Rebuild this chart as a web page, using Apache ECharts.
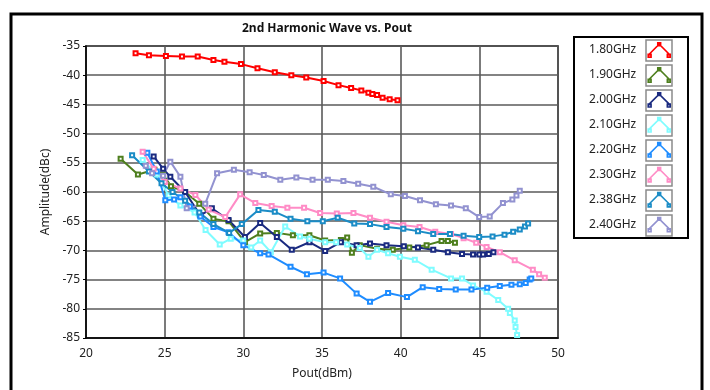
<!DOCTYPE html>
<html>
<head>
<meta charset="utf-8">
<script src="https://cdn.jsdelivr.net/npm/echarts@6/dist/echarts.min.js"></script>
<style>
  html, body { margin: 0; padding: 0; background: #fff; }
  #chart { width: 710px; height: 390px; }
</style>
</head>
<body>
<div id="chart"></div>
<script>
// Frequency names shown in the legend
const freqNames = ['1.80GHz', '1.90GHz', '2.00GHz', '2.10GHz', '2.20GHz', '2.30GHz', '2.38GHz', '2.40GHz'];
const freqColors = ['#ff0000', '#4e7f1e', '#1a2a80', '#7ffcff', '#1e8cff', '#ff8cc6', '#1b8cc6', '#9292d0'];

// [Pout (dBm), amplitude (dBc)] measurements per frequency
const h180 = [[23.15,-36.25],[24.0,-36.6],[25.08,-36.7],[26.1,-36.8],[27.1,-36.8],[28.1,-37.4],[28.8,-37.7],[29.85,-38.1],[30.9,-38.8],[32.0,-39.5],[33.05,-40.0],[34.0,-40.4],[35.1,-41.0],[36.05,-41.7],[36.85,-42.2],[37.5,-42.6],[37.95,-43.0],[38.2,-43.2],[38.5,-43.4],[38.85,-43.85],[39.3,-44.1],[39.8,-44.3]];
const h190 = [[22.2,-54.3],[23.3,-57.0],[24.35,-56.2],[24.9,-57.0],[25.4,-59.0],[26.3,-60.0],[27.2,-62.0],[28.1,-64.6],[29.06,-65.0],[30.1,-68.6],[31.07,-67.1],[32.13,-67.0],[33.15,-67.4],[34.2,-67.4],[35.2,-68.3],[36.2,-68.2],[36.6,-67.8],[36.9,-70.4],[37.4,-69.1],[38.5,-69.7],[39.5,-69.9],[40.55,-69.5],[41.65,-69.1],[42.6,-68.4],[43.0,-68.4],[43.45,-68.7]];
const h200 = [[24.3,-53.9],[24.9,-56.0],[25.36,-57.4],[26.3,-60.0],[27.27,-64.0],[28.0,-62.8],[29.06,-64.8],[30.1,-67.7],[31.07,-65.3],[32.13,-67.7],[33.08,-69.9],[34.2,-68.6],[35.2,-70.1],[36.2,-68.6],[37.2,-69.1],[38.05,-68.8],[39.1,-69.1],[40.2,-69.3],[41.1,-69.5],[42.07,-69.9],[43.0,-70.3],[43.9,-70.6],[44.6,-70.7],[45.0,-70.7],[45.24,-70.7],[45.6,-70.6],[45.9,-70.3]];
const h210 = [[23.6,-54.5],[24.5,-57.0],[25.25,-60.6],[26.0,-62.3],[26.9,-63.5],[27.6,-66.5],[28.5,-69.0],[29.2,-68.0],[30.0,-68.3],[30.5,-69.5],[31.07,-68.3],[31.75,-70.3],[32.66,-65.9],[33.6,-67.6],[34.2,-68.0],[35.2,-68.6],[35.9,-68.6],[36.6,-69.0],[37.4,-69.6],[37.95,-71.1],[38.5,-69.9],[39.2,-70.5],[39.95,-71.1],[40.9,-71.6],[41.97,-73.3],[43.2,-74.8],[43.9,-74.8],[44.6,-76.0],[45.46,-77.1],[46.2,-78.5],[46.83,-80.0],[46.94,-80.7],[47.25,-82.0],[47.3,-83.1],[47.4,-84.5]];
const h220 = [[23.9,-53.3],[24.5,-56.5],[25.04,-61.4],[25.6,-61.3],[26.0,-60.9],[26.6,-62.5],[27.27,-64.2],[28.1,-66.0],[29.06,-66.9],[30.0,-69.1],[31.07,-70.5],[31.6,-70.7],[33.0,-72.8],[34.04,-74.1],[35.1,-73.8],[36.15,-74.8],[37.2,-77.4],[38.05,-78.8],[39.2,-77.3],[40.4,-78.0],[41.4,-76.3],[42.45,-76.6],[43.5,-76.7],[44.5,-76.7],[45.5,-76.4],[46.3,-76.1],[47.04,-75.9],[47.57,-75.8],[47.95,-75.6],[48.2,-75.0],[48.3,-74.8]];
const h230 = [[23.6,-53.1],[24.3,-56.0],[25.0,-58.3],[26.0,-59.4],[26.95,-60.5],[27.8,-63.0],[28.85,-64.3],[29.8,-60.4],[30.76,-61.9],[31.8,-62.4],[32.8,-62.7],[33.86,-62.7],[34.88,-63.6],[35.94,-63.7],[37.0,-63.6],[38.05,-64.4],[39.1,-65.1],[40.17,-65.7],[41.2,-66.0],[42.2,-66.8],[43.2,-67.2],[44.0,-67.9],[44.8,-68.7],[45.46,-69.4],[46.3,-70.3],[47.25,-71.7],[48.4,-73.3],[48.8,-74.1],[49.16,-74.7]];
const h238 = [[22.93,-53.7],[24.0,-56.5],[24.8,-58.5],[25.5,-60.0],[26.3,-61.5],[27.2,-63.5],[28.1,-65.5],[29.1,-67.0],[29.9,-65.5],[30.96,-63.1],[32.0,-63.4],[33.0,-64.6],[34.07,-65.0],[35.05,-65.0],[36.0,-64.4],[37.05,-65.4],[38.05,-65.5],[39.1,-66.0],[40.17,-66.3],[41.1,-66.7],[42.07,-67.2],[43.13,-67.2],[44.0,-67.5],[44.99,-67.7],[45.84,-67.6],[46.6,-67.3],[47.15,-66.8],[47.57,-66.4],[47.9,-65.9],[48.1,-65.4]];
const h240 = [[23.8,-55.5],[24.2,-56.8],[24.9,-57.2],[25.36,-54.8],[26.0,-57.4],[26.4,-62.8],[27.58,-62.0],[28.33,-56.8],[29.4,-56.2],[30.4,-56.6],[31.3,-57.1],[32.35,-57.9],[33.37,-57.5],[34.4,-57.9],[35.37,-57.9],[36.36,-58.1],[37.3,-58.6],[38.26,-59.1],[39.37,-60.4],[40.27,-60.7],[41.23,-61.4],[42.24,-62.1],[43.2,-62.3],[44.14,-62.8],[44.99,-64.3],[45.66,-64.2],[46.5,-61.9],[47.1,-61.3],[47.36,-60.6],[47.57,-59.8]];

const seriesData = [h180, h190, h200, h210, h220, h230, h238, h240];

// Axis ranges and tick step
const xMin = 20, xMax = 50, xStep = 5;
const yMin = -85, yMax = -35, yStep = 5;

const FONT = 'Noto Sans';

// Legend glyph: a caret with small square markers at its three vertices
const caretIcon = 'path://M2,15 L2,13 L12,3 L22,13 L22,15 M0.5,13.5 h3 v3 h-3 z M10.5,1.5 h3 v3 h-3 z M20.5,13.5 h3 v3 h-3 z';

const legendTop = 42, legendStride = 25;
const frameRects = freqNames.map((n, i) => ({
  type: 'rect',
  shape: { x: 646, y: legendTop - 2 + i * legendStride, width: 26, height: 21 },
  style: { fill: 'none', stroke: '#8a8a8a', lineWidth: 1.5 },
  z: 1
}));

const chart = echarts.init(document.getElementById('chart'), null, { renderer: 'canvas' });

chart.setOption({
  animation: false,
  backgroundColor: '#fff',
  title: {
    text: '2nd Harmonic Wave vs. Pout',
    left: 322, top: 18, textAlign: 'center',
    textStyle: { fontFamily: FONT, fontSize: 12, fontWeight: 'bold', color: '#111' }
  },
  grid: {
    left: 86, right: 152, top: 46, bottom: 52,
    show: true, borderColor: '#000', borderWidth: 1.5, backgroundColor: 'transparent'
  },
  legend: {
    orient: 'vertical',
    right: 39, top: legendTop,
    padding: 0,
    itemWidth: 22, itemHeight: 17, itemGap: 9,
    align: 'right',
    icon: caretIcon,
    textStyle: { fontFamily: FONT, fontSize: 12, color: '#222', padding: [0, 7, 0, 0] },
    data: freqNames.map((n, i) => ({
      name: n,
      itemStyle: { color: 'rgba(0,0,0,0)', borderColor: freqColors[i], borderWidth: 1.6 }
    }))
  },
  xAxis: {
    type: 'value', min: xMin, max: xMax, interval: xStep,
    name: 'Pout(dBm)', nameLocation: 'middle', nameGap: 30,
    nameTextStyle: { fontFamily: FONT, fontSize: 12, color: '#222' },
    axisLine: { show: true, lineStyle: { color: '#000', width: 1.5 } },
    axisTick: { show: false },
    axisLabel: { fontFamily: FONT, fontSize: 12, color: '#222', margin: 10 },
    splitLine: { show: true, lineStyle: { color: '#5a5a5a', width: 1.6 } }
  },
  yAxis: {
    type: 'value', min: yMin, max: yMax, interval: yStep,
    name: 'Amplitude(dBc)', nameLocation: 'middle', nameGap: 32, nameRotate: 90,
    nameTextStyle: { fontFamily: FONT, fontSize: 12, color: '#222' },
    axisLine: { show: true, lineStyle: { color: '#000', width: 1.5 } },
    axisTick: { show: true, length: 3, lineStyle: { color: '#000' } },
    axisLabel: { fontFamily: FONT, fontSize: 12, color: '#222', margin: 6 },
    splitLine: { show: true, lineStyle: { color: '#5a5a5a', width: 1.6 } }
  },
  series: freqNames.map((n, i) => ({
    name: n,
    type: 'line',
    data: seriesData[i],
    color: freqColors[i],
    symbol: 'emptyRect',
    symbolSize: 4,
    showAllSymbol: true,
    clip: true,
    lineStyle: { width: 2, color: freqColors[i] },
    itemStyle: { color: freqColors[i], borderWidth: 1 },
    emphasis: { disabled: true }
  })),
  graphic: [
    // outer frame around the whole figure
    { type: 'rect', shape: { x: 11, y: 14, width: 691, height: 390 },
      style: { fill: 'none', stroke: '#000', lineWidth: 3 }, z: 0 },
    // legend box
    { type: 'rect', shape: { x: 574, y: 37, width: 114, height: 201 },
      style: { fill: 'none', stroke: '#000', lineWidth: 2 }, z: 0 }
  ].concat(frameRects)
});
</script>
</body>
</html>
